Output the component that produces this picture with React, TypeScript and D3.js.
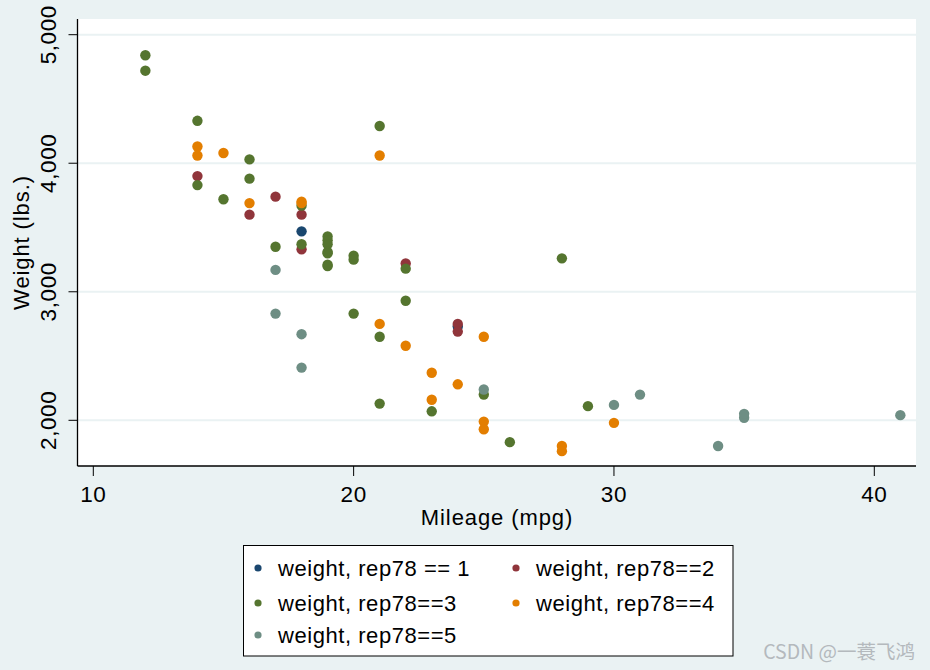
import React from "react";
import * as d3 from "d3";

const rep1Mpg = [18, 24];
const rep1Weight = [3470, 2730];
const rep2Mpg = [14, 22, 24, 18, 16, 17, 18, 24];
const rep2Weight = [3900, 3220, 2750, 3600, 3600, 3740, 3330, 2690];
const rep3Mpg = [12, 12, 14, 14, 15, 16, 16, 17, 18, 18, 19, 19, 19, 19, 19, 19, 19, 20, 20, 20, 21, 21, 21, 22, 22, 23, 25, 26, 28, 29];
const rep3Weight = [4840, 4720, 4330, 3830, 3720, 4030, 3880, 3350, 3670, 3370, 3430, 3400, 3370, 3310, 3300, 3210, 3200, 3280, 3250, 2830, 4290, 2650, 2130, 3180, 2930, 2070, 2200, 1830, 3260, 2110];
const rep4Mpg = [14, 14, 15, 16, 18, 18, 21, 21, 22, 23, 23, 24, 25, 25, 25, 28, 28, 30];
const rep4Weight = [4130, 4060, 4080, 3690, 3700, 3690, 4060, 2750, 2580, 2370, 2160, 2280, 2650, 1990, 1930, 1800, 1760, 1980];
const rep5Mpg = [17, 17, 18, 18, 25, 30, 31, 34, 35, 35, 41];
const rep5Weight = [3170, 2830, 2670, 2410, 2240, 2120, 2200, 1800, 2020, 2050, 2040];

const seriesLabels = ["weight, rep78 == 1", "weight, rep78==2", "weight, rep78==3", "weight, rep78==4", "weight, rep78==5"];
const seriesColors = ["#1a476f", "#90353b", "#55752f", "#e37e00", "#6e8e84"];
const xTicks = [10, 20, 30, 40];
const yTicks = [2000, 3000, 4000, 5000];
const xTitle = "Mileage (mpg)";
const yTitle = "Weight (lbs.)";
const watermark = "CSDN @一蓑飞鸿";

const W = 930, H = 670;
const plotL = 77.5, plotR = 916, plotT = 19, plotB = 466;
const BG = "#eaf2f3";
const FONT = "'Liberation Sans', Arial, sans-serif";

export default function App() {
  const x = d3.scaleLinear().domain([10, 40]).range([93.3, 874.3]);
  const y = d3.scaleLinear().domain([2000, 5000]).range([420.3, 34.7]);
  const fmt = d3.format(",");

  const series = [
    { mpg: rep1Mpg, w: rep1Weight },
    { mpg: rep2Mpg, w: rep2Weight },
    { mpg: rep3Mpg, w: rep3Weight },
    { mpg: rep4Mpg, w: rep4Weight },
    { mpg: rep5Mpg, w: rep5Weight },
  ];

  const legendPos = [
    [258, 568], [516, 568],
    [258, 603], [516, 603],
    [258, 635],
  ];

  return (
    <svg width={W} height={H} style={{ position: "absolute", left: 0, top: 0 }} fontFamily={FONT}>
      <rect x={0} y={0} width={W} height={H} fill={BG} />
      <rect x={plotL} y={plotT} width={plotR - plotL} height={plotB - plotT} fill="#ffffff" />
      {yTicks.map((t) => (
        <line key={"g" + t} x1={plotL} x2={plotR} y1={y(t)} y2={y(t)} stroke={BG} strokeWidth={2} />
      ))}
      {series.map((s, i) => (
        <g key={"s" + i} fill={seriesColors[i]}>
          {s.mpg.map((m, j) => (
            <circle key={j} cx={x(m)} cy={y(s.w[j])} r={5.2} />
          ))}
        </g>
      ))}
      <line x1={plotL} x2={plotL} y1={plotT} y2={plotB} stroke="#000" strokeWidth={1.3} />
      <line x1={plotL} x2={plotR} y1={plotB} y2={plotB} stroke="#000" strokeWidth={1.3} />
      {xTicks.map((t) => (
        <g key={"xt" + t}>
          <line x1={x(t)} x2={x(t)} y1={plotB} y2={plotB + 10} stroke="#000" strokeWidth={1} />
          <text x={x(t)} y={502} textAnchor="middle" fontSize={22.5} letterSpacing={0.6} fill="#000">{t}</text>
        </g>
      ))}
      {yTicks.map((t) => (
        <g key={"yt" + t}>
          <line x1={plotL - 9} x2={plotL} y1={y(t)} y2={y(t)} stroke="#000" strokeWidth={1} />
          <text transform={`translate(56,${y(t)}) rotate(-90)`} textAnchor="middle" fontSize={22.5} letterSpacing={0.6} fill="#000">{fmt(t)}</text>
        </g>
      ))}
      <text x={497} y={525} textAnchor="middle" fontSize={22} letterSpacing={0.9} fill="#000">{xTitle}</text>
      <text transform={`translate(29,${(plotT + plotB) / 2}) rotate(-90)`} textAnchor="middle" fontSize={22} letterSpacing={0.9} fill="#000">{yTitle}</text>
      <rect x={243.5} y={545.5} width={489.5} height={110.5} fill="#ffffff" stroke="#000" strokeWidth={1} />
      {seriesLabels.map((lab, i) => (
        <g key={"l" + i}>
          <circle cx={legendPos[i][0]} cy={legendPos[i][1]} r={3.6} fill={seriesColors[i]} />
          <text x={legendPos[i][0] + 20} y={legendPos[i][1] + 8} fontSize={22} letterSpacing={0.55} fill="#000">{lab}</text>
        </g>
      ))}
      <text x={915} y={659} textAnchor="end" fontSize={19.5} fill="#b4b9bd" fontFamily="'Noto Sans CJK SC', 'Noto Sans', sans-serif">{watermark}</text>
    </svg>
  );
}
